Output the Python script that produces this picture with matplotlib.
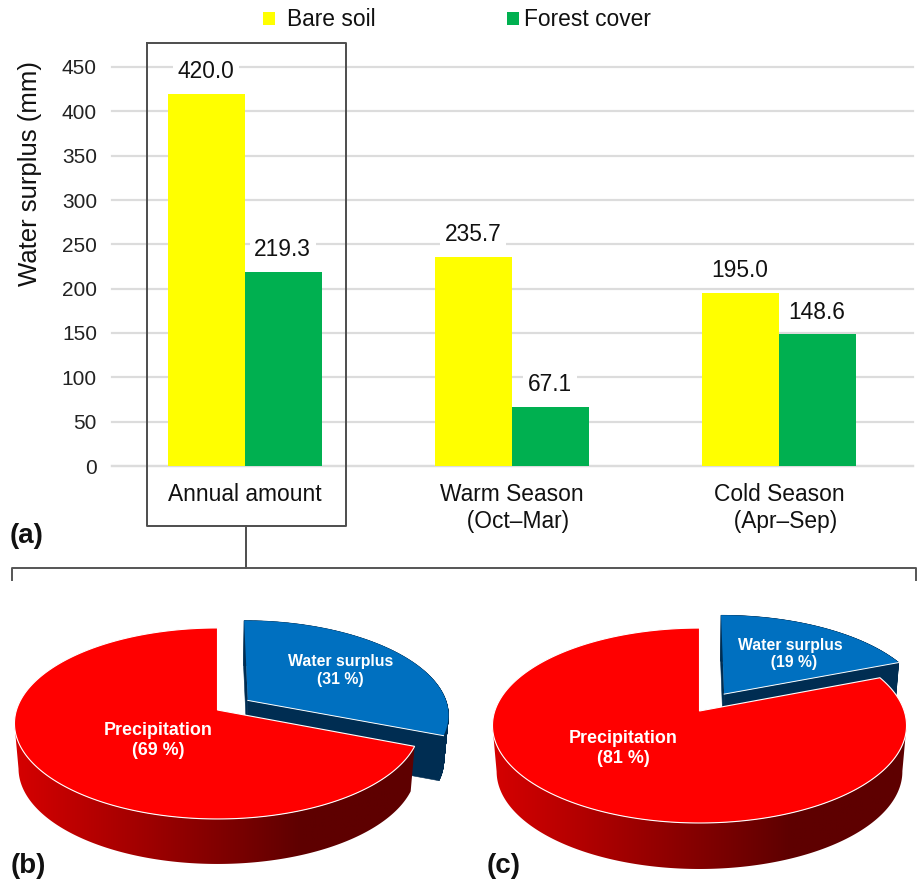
import numpy as np
import matplotlib

matplotlib.use("Agg")
import matplotlib.pyplot as plt  # noqa: E402
from matplotlib.colors import LinearSegmentedColormap  # noqa: E402
from matplotlib.patches import Polygon  # noqa: E402

plt.rcParams["font.family"] = ["Liberation Sans", "DejaVu Sans"]

categories = ["Annual amount", "Warm Season\n  (Oct–Mar)", "Cold Season\n  (Apr–Sep)"]
bare_soil = [420.0, 235.7, 195.0]
forest_cover = [219.3, 67.1, 148.6]
y_ticks = [0, 50, 100, 150, 200, 250, 300, 350, 400, 450]

surplus_share_b = 31
precip_share_b = 69
surplus_share_c = 19
precip_share_c = 81

W, H = 917, 883
wall_cmap = LinearSegmentedColormap.from_list(
    "wall", [(0, "#d60000"), (0.72, "#5e0000"), (1, "#5e0000")]
)


def project(g, u, v, drop=0.0):
    """disc coords -> figure pixels, with a simple perspective."""
    w = 1 + g["k"] * v
    scale = 0.98 if drop else 1.0
    return g["cx"] + scale * g["a"] * u / w, g["cy"] - g["b"] * v / w + drop


def rim(share_from, share_to, n=400):
    t = np.radians(np.linspace(share_from, share_to, n) * 3.6)
    return np.sin(t), np.cos(t)


def wall_outline(g, u, v):
    x0, y0 = project(g, u, v)
    x1, y1 = project(g, u, v, g["depth"])
    return np.c_[np.r_[x0, x1[::-1]], np.r_[y0, y1[::-1]]]


def draw_pie(ax, g, surplus, precip):
    navy = "#002d52"
    # blue slice, pulled out along its middle angle
    mid = np.radians(surplus / 2 * 3.6)
    eu, ev = g["explode"] * np.sin(mid), g["explode"] * np.cos(mid)
    u, v = rim(0, surplus)
    bu = np.r_[eu, u + eu, eu]
    bv = np.r_[ev, v + ev, ev]
    for i in range(len(bu) - 1):
        xy = wall_outline(g, bu[i : i + 2], bv[i : i + 2])
        ax.add_patch(Polygon(xy, facecolor=navy, edgecolor=navy, linewidth=0.4, zorder=1))
    x, y = project(g, bu, bv)
    ax.fill(x, y, facecolor="#0070c0", edgecolor="none", zorder=2)
    # white seam along the cut edge only
    x_cut, y_cut = project(g, np.array([eu, u[-1] + eu]), np.array([ev, v[-1] + ev]))
    ax.plot(x_cut, y_cut, color="white", lw=0.7, zorder=2.5)

    # red slice, its wall is a gradient clipped to the front-facing outline
    u, v = rim(surplus, surplus + precip)
    x_all, _ = project(g, u, v)
    i_right, i_left = np.argmax(x_all), np.argmin(x_all)
    xy = wall_outline(g, u[i_right : i_left + 1], v[i_right : i_left + 1])
    img = ax.imshow(
        np.linspace(0, 1, 256)[None, :],
        cmap=wall_cmap,
        extent=(x_all.min(), x_all.max(), xy[:, 1].max(), xy[:, 1].min()),
        aspect="auto",
        zorder=3,
    )
    img.set_clip_path(Polygon(xy, transform=ax.transData))
    x, y = project(g, np.r_[0, u, 0], np.r_[0, v, 0])
    ax.fill(x, y, facecolor="#ff0000", edgecolor="white", linewidth=0.8, zorder=4)


fig = plt.figure(figsize=(W / 100, H / 100), dpi=100)

# bar panel
ax = fig.add_axes([111.5 / W, 1 - 466 / H, 801 / W, 399 / H])
pos = np.arange(len(categories))
bar_w = 77 / 267
b1 = ax.bar(pos - bar_w / 2, bare_soil, bar_w, color="#ffff00", label="Bare soil", zorder=3)
b2 = ax.bar(pos + bar_w / 2, forest_cover, bar_w, color="#00b050", label="Forest cover", zorder=3)
for bars, vals in ((b1, bare_soil), (b2, forest_cover)):
    for r, val in zip(bars, vals):
        ax.annotate(
            f"{val:.1f}",
            (r.get_x() + r.get_width() / 2, val),
            xytext=(-0.5, 16),
            textcoords="offset points",
            ha="center",
            va="center",
            fontsize=16.4,
            color="#111111",
            zorder=5,
            bbox=dict(facecolor="white", edgecolor="none", pad=3.5),
        )
ax.set_xlim(-0.5, 2.5)
ax.set_ylim(0, 450)
ax.set_yticks(y_ticks)
ax.set_xticks(pos)
ax.set_xticklabels(categories, fontsize=16.4, color="#111111", linespacing=1.25)
ax.tick_params(axis="x", length=0, pad=12)
ax.tick_params(axis="y", length=0, pad=10.5, labelsize=15, labelcolor="#222222")
ax.set_ylabel("Water surplus (mm)", fontsize=18.5, color="#111111")
ax.yaxis.set_label_coords(-69 / 801, 0.734)
ax.grid(axis="y", color="#dcdcdc", linewidth=1.6, zorder=0)
ax.set_axisbelow(True)
for line in ax.get_ygridlines():
    line.set_clip_on(False)
for name in ("top", "right", "left"):
    ax.spines[name].set_visible(False)
ax.spines["bottom"].set_color("#dcdcdc")
ax.spines["bottom"].set_linewidth(1.6)

# legend entries sit at uneven gaps, so one legend each
for handle, left, gap in ((b1, 263, 0.53), (b2, 507, 0.22)):
    fig.legend(
        handles=[handle],
        loc="center left",
        bbox_to_anchor=(left / W, 1 - 20 / H),
        frameon=False,
        fontsize=16.4,
        borderpad=0,
        borderaxespad=0,
        handlelength=0.53,
        handleheight=0.5,
        handletextpad=gap,
        labelcolor="#111111",
    )

# overlay in pixel coords for the box, bracket and pies
ov = fig.add_axes([0, 0, 1, 1])
ov.axis("off")
ov.patch.set_alpha(0)

line_c = "#4d4d4d"
ov.plot([147, 346, 346, 147, 147], [42.5, 42.5, 526, 526, 42.5], color=line_c, lw=1.4)
ov.plot([246, 246], [526, 568], color=line_c, lw=1.4)
ov.plot([12, 12, 916, 916], [580, 568, 568, 580], color="#555555", lw=1.4)

geo_b = dict(cx=217.5, cy=710, a=201, b=93.6, k=0.141, depth=45, explode=0.185)
geo_c = dict(cx=699.5, cy=711, a=204.7, b=95.3, k=0.149, depth=46, explode=0.22)
draw_pie(ov, geo_b, surplus_share_b, precip_share_b)
draw_pie(ov, geo_c, surplus_share_c, precip_share_c)
ov.set_xlim(0, W)
ov.set_ylim(H, 0)

pie_txt = dict(ha="center", va="center", color="white", fontweight="bold", linespacing=1.2, zorder=6)
ov.text(158, 740.5, f"Precipitation\n({precip_share_b} %)", fontsize=12.9, **pie_txt)
ov.text(340.5, 670.5, f"Water surplus\n({surplus_share_b} %)", fontsize=11.4, **pie_txt)
ov.text(623, 748.5, f"Precipitation\n({precip_share_c} %)", fontsize=12.9, **pie_txt)
ov.text(790, 654, f"Water surplus\n  ({surplus_share_c} %)", fontsize=11.3, **pie_txt)

for x, y, lab in ((10, 536, "(a)"), (11, 866, "(b)"), (487, 866, "(c)")):
    ov.text(x, y, lab, fontsize=20, fontweight="bold", ha="left", va="center", color="#111111", zorder=7)

fig.savefig("out.png", dpi=100)
plt.close(fig)
